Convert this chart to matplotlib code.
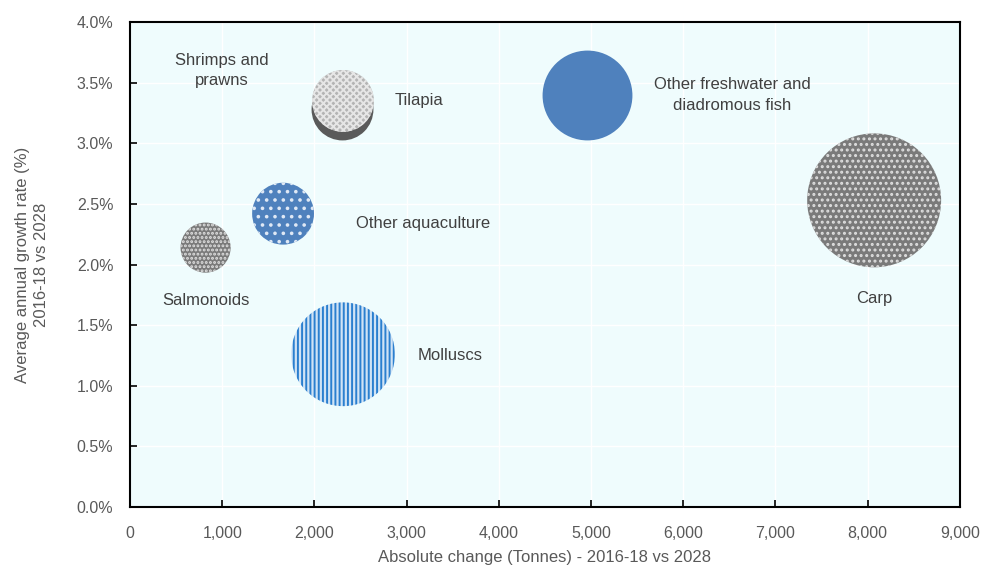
import matplotlib
matplotlib.use("Agg")
import matplotlib.pyplot as plt
from matplotlib.ticker import FuncFormatter, MultipleLocator

plt.rcParams['font.family'] = ['Liberation Sans Narrow', 'Liberation Sans', 'DejaVu Sans']
plt.rcParams['hatch.linewidth'] = 1.4

# data
species = ["Shrimps and prawns", "Tilapia", "Other freshwater and diadromous fish",
           "Carp", "Other aquaculture", "Salmonoids", "Molluscs"]
abs_change = [2300, 2310, 4960, 8070, 1660, 820, 2310]       # tonnes
growth_rate = [3.28, 3.35, 3.40, 2.53, 2.42, 2.14, 1.26]      # % p.a.
volume = [6.4, 6.4, 13.5, 30.0, 6.4, 4.2, 18.0]               # bubble size

labels = ["Shrimps and\nprawns", "Tilapia", "Other freshwater and\ndiadromous fish",
          "Carp", "Other aquaculture", "Salmonoids", "Molluscs"]
label_x = [1000, 2870, 6530, 8070, 2450, 820, 3120]
label_y = [3.60, 3.35, 3.40, 1.72, 2.34, 1.70, 1.25]
label_ha = ["center", "left", "center", "center", "left", "center", "left"]

styles = {
    "Shrimps and prawns": dict(fc="#5a5a5a", ec="#5a5a5a", hatch=None),
    "Tilapia": dict(fc="#b4b4b4", ec="#e6e6e6", hatch="xxxxx"),
    "Other freshwater and diadromous fish": dict(fc="#4f81bd", ec="#4f81bd", hatch=None),
    "Carp": dict(fc="#7a7a7a", ec="#dedede", hatch="..."),
    "Other aquaculture": dict(fc="#4f81bd", ec="#dfe8f5", hatch=".."),
    "Salmonoids": dict(fc="#7a7a7a", ec="#e0e0e0", hatch="...."),
    "Molluscs": dict(fc="#d0e3f5", ec="#2a7fcf", hatch="||||"),
}

fig = plt.figure(figsize=(9.81, 5.69), dpi=100)
ax = fig.add_axes([0.1325, 0.109, 0.846, 0.852])
ax.set_facecolor("#effcfd")

scale = 310
for name, x, y, v in zip(species, abs_change, growth_rate, volume):
    st = styles[name]
    ax.scatter([x], [y], s=v * scale, facecolors=st["fc"], edgecolors=st["ec"],
               hatch=st["hatch"], linewidths=0, zorder=3)

for txt, x, y, ha in zip(labels, label_x, label_y, label_ha):
    ax.text(x, y, txt, ha=ha, va="center", fontsize=12, color="#404040",
            linespacing=1.45, zorder=4)

ax.set_xlim(0, 9000)
ax.set_ylim(0, 4.0)
ax.xaxis.set_major_locator(MultipleLocator(1000))
ax.yaxis.set_major_locator(MultipleLocator(0.5))
ax.xaxis.set_major_formatter(FuncFormatter(lambda v, p: f"{v:,.0f}"))
ax.yaxis.set_major_formatter(FuncFormatter(lambda v, p: f"{v:.1f}%"))
ax.grid(True, color="white", linewidth=1.0, zorder=0)
ax.set_axisbelow(True)
ax.tick_params(direction="in", length=5, width=1.2, color="black",
               labelsize=11.5, labelcolor="#595959")
ax.tick_params(axis="x", pad=14)
ax.tick_params(axis="y", pad=12)
for sp in ax.spines.values():
    sp.set_linewidth(1.5)
    sp.set_color("black")

ax.set_xlabel("Absolute change (Tonnes) - 2016-18 vs 2028", fontsize=12,
              color="#595959", labelpad=6)
ax.set_ylabel("Average annual growth rate (%)\n2016-18 vs 2028", fontsize=12,
              color="#595959", labelpad=20, linespacing=1.3)

fig.savefig("out.png", dpi=100)
